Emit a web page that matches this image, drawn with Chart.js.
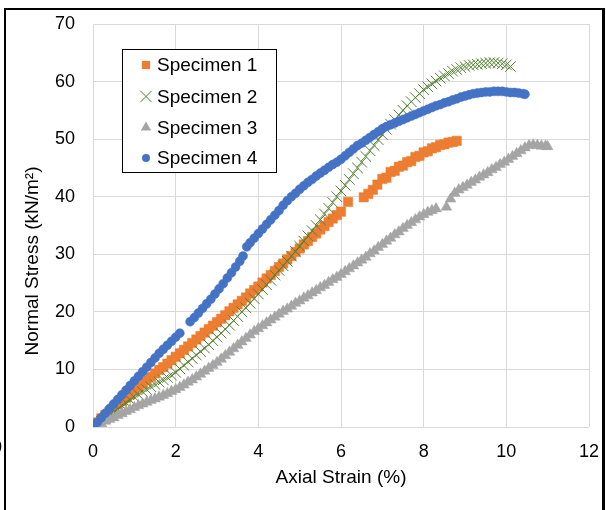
<!DOCTYPE html>
<html>
<head>
<meta charset="utf-8">
<script src="https://cdn.jsdelivr.net/npm/chart.js@4/dist/chart.umd.min.js"></script>
<style>
  html, body { margin: 0; padding: 0; background: #fff; }
  body { width: 606px; height: 510px; position: relative; overflow: hidden; font-family: 'Liberation Sans', Arial, sans-serif; }
  #wrap { position: absolute; left: 0; top: 0; width: 606px; height: 510px; }
  #frame { position: absolute; left: 4px; top: 8px; width: 596px; height: 510px; border-left: 2px solid #000; border-top: 2px solid #000; border-right: 3px solid #000; pointer-events: none; }
  #frag { position: absolute; left: -8px; top: 436px; font-size: 18px; color: #000; line-height: 22px; }
</style>
</head>
<body>
<div id="wrap"><canvas id="c" width="606" height="510"></canvas></div>
<div id="frame"></div>
<div id="frag">0</div>
<script>
// ---- Data ----
const seriesNames = ['Specimen 1', 'Specimen 2', 'Specimen 3', 'Specimen 4'];
const xTitle = 'Axial Strain (%)';
const yTitle = 'Normal Stress (kN/m\u00B2)';
const xTicks = [0, 2, 4, 6, 8, 10, 12];
const yTicks = [0, 10, 20, 30, 40, 50, 60, 70];

const s1Strain = [0,0.1,0.2,0.3,0.4,0.5,0.6,0.7,0.8,0.9,1.0,1.1,1.2,1.3,1.4,1.5,1.6,1.7,1.8,1.9,2.0,2.1,2.2,2.3,2.4,2.5,2.6,2.7,2.8,2.9,3.0,3.1,3.2,3.3,3.4,3.5,3.6,3.7,3.8,3.9,4.0,4.1,4.2,4.3,4.4,4.5,4.6,4.7,4.8,4.9,5.0,5.1,5.2,5.3,5.4,5.5,5.6,5.7,5.8,5.9,6.0,
  6.17,6.55,6.66,6.77,6.88,7.0,7.1,7.2,7.3,7.4,7.5,7.6,7.7,7.8,7.9,8.0,8.1,8.2,8.3,8.4,8.5,8.6,8.7,8.8];
const s1Stress = [0,0.8,1.5,2.1,2.7,3.3,3.9,4.5,5.1,5.7,6.3,6.9,7.5,8.1,8.7,9.3,9.9,10.4,11.0,11.6,12.2,12.8,13.4,14.0,14.6,15.2,15.8,16.4,17.0,17.6,18.2,18.8,19.4,20.1,20.7,21.3,21.9,22.5,23.2,23.8,24.4,25.1,25.8,26.4,27.1,27.8,28.4,29.1,29.7,30.4,31.0,31.7,32.3,33.0,33.6,34.3,34.9,35.6,36.2,36.8,37.4,
  39.1,39.9,40.5,41.2,42.1,43.1,43.3,44.3,44.5,45.2,45.4,46.0,46.2,46.9,47.1,47.7,47.9,48.4,48.6,49.0,49.1,49.4,49.5,49.7];

const s2Strain = [0,0.1,0.2,0.3,0.4,0.5,0.6,0.7,0.8,0.9,1.0,1.1,1.2,1.3,1.4,1.5,1.6,1.7,1.8,1.9,2.0,2.1,2.2,2.3,2.4,2.5,2.6,2.7,2.8,2.9,3.0,3.1,3.2,3.3,3.4,3.5,3.6,3.7,3.8,3.9,4.0,4.1,4.2,4.3,4.4,4.5,4.6,4.7,4.8,4.9,5.0,5.1,5.2,5.3,5.4,5.5,5.6,5.7,5.8,5.9,6.0,6.1,6.2,6.3,6.4,6.5,6.6,6.7,6.8,6.9,7.0,7.1,7.2,7.3,7.4,7.5,7.6,7.7,7.8,7.9,8.0,8.1,8.2,8.3,8.4,8.5,8.6,8.7,8.8,8.9,9.0,9.1,9.2,9.3,9.4,9.5,9.6,9.7,9.8,9.9,10.0,10.1];
const s2Stress = [0,0.5,1.0,1.6,2.1,2.6,3.1,3.7,4.2,4.7,5.2,5.6,6.1,6.5,7.0,7.4,7.8,8.2,8.6,9.0,9.5,10.1,10.7,11.3,11.9,12.5,13.1,13.7,14.3,15.0,15.6,16.3,17.0,17.7,18.5,19.2,20.0,20.7,21.5,22.3,23.1,23.9,24.7,25.5,26.4,27.2,28.0,28.8,29.7,30.5,31.4,32.3,33.2,34.1,35.0,36.0,37.0,38.0,39.0,40.0,41.0,42.0,43.0,44.0,45.0,46.0,47.0,48.0,48.9,49.9,50.8,51.7,52.6,53.4,54.2,55.0,55.8,56.5,57.2,57.9,58.6,59.1,59.6,60.1,60.6,61.0,61.4,61.8,62.1,62.4,62.6,62.8,62.9,63.0,63.1,63.2,63.3,63.3,63.2,63.1,62.9,62.6];

const s3Strain = [0,0.1,0.2,0.3,0.4,0.5,0.6,0.7,0.8,0.9,1.0,1.1,1.2,1.3,1.4,1.5,1.6,1.7,1.8,1.9,2.0,2.1,2.2,2.3,2.4,2.5,2.6,2.7,2.8,2.9,3.0,3.1,3.2,3.3,3.4,3.5,3.6,3.7,3.8,3.9,4.0,4.1,4.2,4.3,4.4,4.5,4.6,4.7,4.8,4.9,5.0,5.1,5.2,5.3,5.4,5.5,5.6,5.7,5.8,5.9,6.0,6.1,6.2,6.3,6.4,6.5,6.6,6.7,6.8,6.9,7.0,7.1,7.2,7.3,7.4,7.5,7.6,7.7,7.8,7.9,8.0,8.1,8.2,8.3,
  8.55,8.65,8.75,8.85,8.95,9.05,9.15,9.25,9.35,9.45,9.55,9.65,9.75,9.85,9.95,10.05,10.15,10.25,10.35,10.45,10.55,10.65,10.75,10.85,10.95,11.0];
const s3Stress = [0,0.3,0.6,1.0,1.3,1.6,2.0,2.3,2.7,3.0,3.4,3.7,4.0,4.3,4.6,4.9,5.2,5.5,5.8,6.2,6.5,6.9,7.3,7.8,8.2,8.7,9.2,9.7,10.2,10.7,11.2,11.8,12.4,13.0,13.6,14.2,14.8,15.4,16.0,16.6,17.1,17.6,18.1,18.6,19.1,19.6,20.1,20.5,21.0,21.5,21.9,22.4,22.8,23.3,23.7,24.2,24.6,25.1,25.6,26.0,26.5,27.0,27.5,28.0,28.5,29.0,29.5,30.1,30.6,31.2,31.7,32.3,32.8,33.4,33.9,34.5,35.0,35.5,36.0,36.5,36.9,37.3,37.6,37.9,
  38.2,39.6,40.6,41.2,41.6,42.0,42.5,42.9,43.4,43.8,44.2,44.7,45.1,45.6,46.0,46.5,47.0,47.5,48.0,48.5,48.9,49.0,48.9,48.8,48.8,48.7];

const s4Strain = [0,0.1,0.2,0.3,0.4,0.5,0.6,0.7,0.8,0.9,1.0,1.1,1.2,1.3,1.4,1.5,1.6,1.7,1.8,1.9,2.0,2.1,
  2.35,2.45,2.55,2.65,2.75,2.85,2.95,3.05,3.15,3.25,3.35,3.45,3.55,3.63,
  3.72,3.8,3.9,4.0,4.1,4.2,4.3,4.4,4.5,4.6,4.7,4.8,4.9,5.0,5.1,5.2,5.3,5.4,5.5,5.6,5.7,5.8,5.9,6.0,6.1,6.2,6.3,6.4,6.5,6.6,6.7,6.8,6.9,7.0,7.1,7.2,7.3,7.4,7.5,7.6,7.7,7.8,7.9,8.0,8.1,8.2,8.3,8.4,8.5,8.6,8.7,8.8,8.9,9.0,9.1,9.2,9.3,9.4,9.5,9.6,9.7,9.8,9.9,10.0,10.1,10.2,10.3,10.4,10.45];
const s4Stress = [0,0.8,1.6,2.4,3.2,4.0,4.8,5.6,6.4,7.2,8.0,8.8,9.6,10.4,11.2,12.0,12.8,13.5,14.2,14.9,15.6,16.3,
  18.3,19.0,19.8,20.6,21.4,22.2,23.1,24.0,24.9,25.9,26.8,27.8,28.8,29.7,
  31.3,32.0,32.8,33.6,34.4,35.2,36.0,36.8,37.6,38.5,39.3,40.0,40.6,41.3,41.9,42.5,43.0,43.6,44.1,44.6,45.1,45.6,46.0,46.5,47.1,47.7,48.3,48.9,49.3,49.8,50.3,50.8,51.3,51.8,52.2,52.5,52.8,53.1,53.4,53.7,54.0,54.3,54.6,54.9,55.2,55.5,55.8,56.0,56.3,56.5,56.8,57.0,57.3,57.5,57.7,57.9,58.0,58.1,58.2,58.2,58.3,58.3,58.3,58.2,58.1,58.1,58.0,57.9,57.8];

// ---- Styles ----
const FONT = "'Liberation Sans', Arial, sans-serif";
const colors = ['#ED7D31', '#548235', '#A5A5A5', '#4472C4'];
const styles = ['rect', 'crossRot', 'triangle', 'circle'];
const radii = [6.6, 7.5, 6.2, 4.5];

function pts(xs, ys) { return xs.map((x, i) => ({ x: x, y: ys[i] })); }
const allData = [pts(s1Strain, s1Stress), pts(s2Strain, s2Stress), pts(s3Strain, s3Stress), pts(s4Strain, s4Stress)];

const datasets = allData.map((d, i) => ({
  label: seriesNames[i],
  data: d,
  showLine: false,
  pointStyle: styles[i],
  pointRadius: radii[i],
  pointHoverRadius: radii[i],
  backgroundColor: colors[i],
  borderColor: colors[i],
  borderWidth: i === 1 ? 1 : 0.5,
  order: 4 - i
}));

function drawMarker(ctx, style, r, x, y) {
  ctx.beginPath();
  if (style === 'rect') { const s = Math.SQRT1_2 * r; ctx.rect(x - s, y - s, 2 * s, 2 * s); ctx.fill(); }
  else if (style === 'circle') { ctx.arc(x, y, r, 0, Math.PI * 2); ctx.fill(); }
  else if (style === 'triangle') {
    ctx.moveTo(x, y - r);
    ctx.lineTo(x + r * Math.sin(2 * Math.PI / 3), y - r * Math.cos(2 * Math.PI / 3));
    ctx.lineTo(x + r * Math.sin(4 * Math.PI / 3), y - r * Math.cos(4 * Math.PI / 3));
    ctx.closePath(); ctx.fill();
  } else {
    const d = r * Math.SQRT1_2;
    ctx.moveTo(x - d, y - d); ctx.lineTo(x + d, y + d);
    ctx.moveTo(x + d, y - d); ctx.lineTo(x - d, y + d);
    ctx.stroke();
  }
}

const overlay = {
  id: 'overlay',
  afterDraw(chart) {
    const ctx = chart.ctx;
    ctx.save();
    // axis titles
    ctx.fillStyle = '#000';
    ctx.font = '19px ' + FONT;
    ctx.textAlign = 'center';
    ctx.textBaseline = 'middle';
    ctx.fillText(xTitle, (chart.chartArea.left + chart.chartArea.right) / 2, 478);
    ctx.save();
    ctx.translate(33, 261);
    ctx.rotate(-Math.PI / 2);
    ctx.fillText(yTitle, 0, 0);
    ctx.restore();
    // legend
    const L = 122.5, T = 49.5, W = 154, H = 123;
    ctx.fillStyle = '#fff';
    ctx.fillRect(L, T, W, H);
    ctx.strokeStyle = '#000';
    ctx.lineWidth = 1;
    ctx.strokeRect(L, T, W, H);
    const rowsY = [65, 96.5, 127.5, 158];
    const lr = [5.8, 8.0, 6.0, 4.0];
    rowsY.forEach((y, i) => {
      ctx.fillStyle = colors[i];
      ctx.strokeStyle = colors[i];
      ctx.lineWidth = 1;
      drawMarker(ctx, styles[i], lr[i], 146, y);
      ctx.fillStyle = '#000';
      ctx.font = '19px ' + FONT;
      ctx.textAlign = 'left';
      ctx.textBaseline = 'middle';
      ctx.fillText(seriesNames[i], 157, y + 1);
    });
    ctx.restore();
  }
};

new Chart(document.getElementById('c'), {
  type: 'scatter',
  data: { datasets: datasets },
  options: {
    responsive: false,
    animation: false,
    events: [],
    layout: { padding: { left: 0, top: 24, right: 17, bottom: 0 } },
    plugins: { legend: { display: false }, tooltip: { enabled: false } },
    scales: {
      x: {
        type: 'linear', min: xTicks[0], max: xTicks[xTicks.length - 1],
        afterFit(s) { s.height = 83; s.paddingLeft = 0; s.paddingRight = 0; },
        afterBuildTicks(s) { s.ticks = xTicks.map(v => ({ value: v })); },
        grid: { color: '#D9D9D9', lineWidth: 1, drawTicks: false },
        border: { display: false },
        ticks: { color: '#000', padding: 14, font: { family: FONT, size: 18 }, maxRotation: 0 }
      },
      y: {
        type: 'linear', min: yTicks[0], max: yTicks[yTicks.length - 1],
        afterFit(s) { s.width = 93; s.paddingTop = 0; s.paddingBottom = 0; },
        afterBuildTicks(s) { s.ticks = yTicks.map(v => ({ value: v })); },
        grid: { color: '#D9D9D9', lineWidth: 1, drawTicks: false },
        border: { display: false },
        ticks: { color: '#000', padding: 18, font: { family: FONT, size: 18 } }
      }
    }
  },
  plugins: [overlay]
});
</script>
</body>
</html>
